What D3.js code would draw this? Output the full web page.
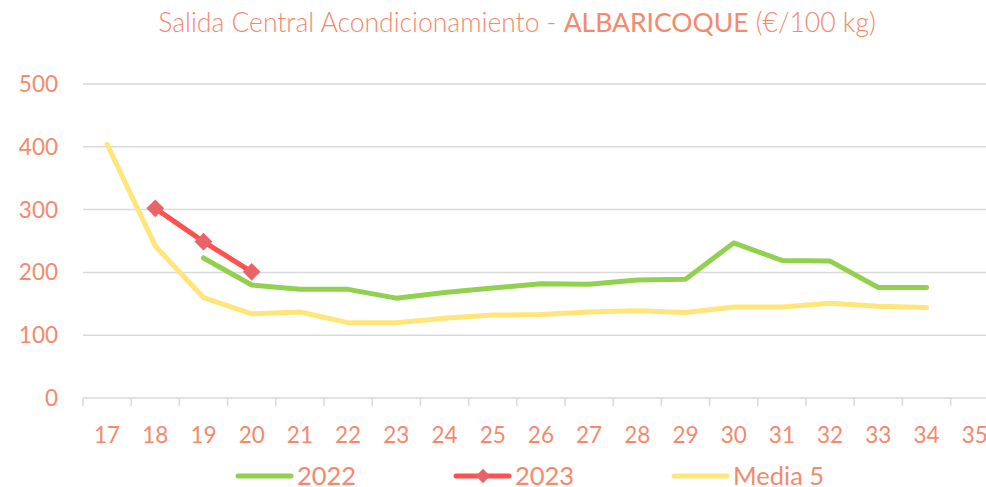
<!DOCTYPE html>
<html>
<head>
<meta charset="utf-8">
<script src="https://cdn.jsdelivr.net/npm/d3@7"></script>
<style>
  body { margin: 0; background: #fff; }
  text { font-family: Lato, "Open Sans", sans-serif; fill: #f4896b; }
</style>
</head>
<body>
<svg id="chart" width="986" height="487"></svg>
<script>
var weeks = ["17","18","19","20","21","22","23","24","25","26","27","28","29","30","31","32","33","34","35"];
var y2022 = [null,null,223,180,173,173,159,168,175,182,181,188,189,247,219,218,176,176,null];
var y2023 = [null,302,249,201,null,null,null,null,null,null,null,null,null,null,null,null,null,null,null];
var media5 = [404,242,160,134,137,120,120,127,132,133,137,139,136,145,145,151,146,144,null];
var yTicks = [0,100,200,300,400,500];

var svg = d3.select("#chart"),
	left = 83,
	bandW = 48.2,
	x = d3.scaleBand().domain(weeks).range([left, left + bandW*weeks.length]),
	y = d3.scaleLinear().domain([0,500]).range([398,84]);

var series = [
	{name: "2022", values: y2022, color: "#92d050", marker: false},
	{name: "2023", values: y2023, color: "#ff5050", marker: true},
	{name: "Media 5", values: media5, color: "#ffe57a", marker: false}
];

// title
var title = svg.append("text")
	.attr("x", 517).attr("y", 32)
	.attr("text-anchor", "middle")
	.style("font-size", "26.5px");
title.append("tspan").style("font-weight", 300).text("Salida Central Acondicionamiento - ");
title.append("tspan").style("font-weight", 400).text("ALBARICOQUE");
title.append("tspan").style("font-weight", 300).text(" (€/100 kg)");

// gridlines
svg.append("g").selectAll("line")
	.data(yTicks.filter(function(d) { return d > 0; }))
	.enter().append("line")
	.attr("x1", left).attr("x2", 986)
	.attr("y1", function(d) { return y(d); })
	.attr("y2", function(d) { return y(d); })
	.attr("stroke", "#d9d9d9").attr("stroke-width", 1.5);

// y labels
svg.append("g").selectAll("text")
	.data(yTicks)
	.enter().append("text")
	.attr("x", 58)
	.attr("y", function(d) { return y(d) + 8; })
	.attr("text-anchor", "end")
	.style("font-size", "22.5px")
	.text(function(d) { return d; });

// x axis
var xa = svg.append("g");
xa.append("line")
	.attr("x1", left).attr("x2", 986)
	.attr("y1", y(0)).attr("y2", y(0))
	.attr("stroke", "#d9d9d9").attr("stroke-width", 1.5);
xa.selectAll("line.tick")
	.data(weeks)
	.enter().append("line")
	.attr("class", "tick")
	.attr("x1", function(d) { return x(d); })
	.attr("x2", function(d) { return x(d); })
	.attr("y1", y(0)).attr("y2", y(0) + 8)
	.attr("stroke", "#d9d9d9").attr("stroke-width", 1.5);
xa.selectAll("text")
	.data(weeks)
	.enter().append("text")
	.attr("x", function(d) { return x(d) + x.bandwidth()/2; })
	.attr("y", 443)
	.attr("text-anchor", "middle")
	.style("font-size", "22.5px")
	.text(function(d) { return d; });

// lines
var line = d3.line()
	.defined(function(d) { return d != null; })
	.x(function(d, i) { return x(weeks[i]) + x.bandwidth()/2; })
	.y(function(d) { return y(d); });

[series[2], series[0], series[1]].forEach(function(s) {
	svg.append("path")
		.attr("d", line(s.values))
		.attr("fill", "none")
		.attr("stroke", s.color)
		.attr("stroke-width", 5)
		.attr("stroke-linecap", "round")
		.attr("stroke-linejoin", "round");
	if (s.marker) {
		svg.append("g").selectAll("path")
			.data(s.values.map(function(v, i) { return {v: v, i: i}; }).filter(function(d) { return d.v != null; }))
			.enter().append("path")
			.attr("d", d3.symbol().type(d3.symbolDiamond2).size(200))
			.attr("transform", function(d) {
				return "translate(" + (x(weeks[d.i]) + x.bandwidth()/2) + "," + y(d.v) + ")";
			})
			.attr("fill", "#e96468");
	}
});

// legend
var legX = [238, 456, 674];
series.forEach(function(s, i) {
	var g = svg.append("g").attr("transform", "translate(" + legX[i] + ",476)");
	g.append("line")
		.attr("x1", 0).attr("x2", 53)
		.attr("stroke", s.color).attr("stroke-width", 5)
		.attr("stroke-linecap", "round");
	if (s.marker) {
		g.append("path")
			.attr("d", d3.symbol().type(d3.symbolDiamond2).size(130))
			.attr("transform", "translate(27,0)")
			.attr("fill", "#e96468");
	}
	g.append("text")
		.attr("x", 59).attr("y", 9)
		.style("font-size", "25.5px")
		.text(s.name);
});
</script>
</body>
</html>
